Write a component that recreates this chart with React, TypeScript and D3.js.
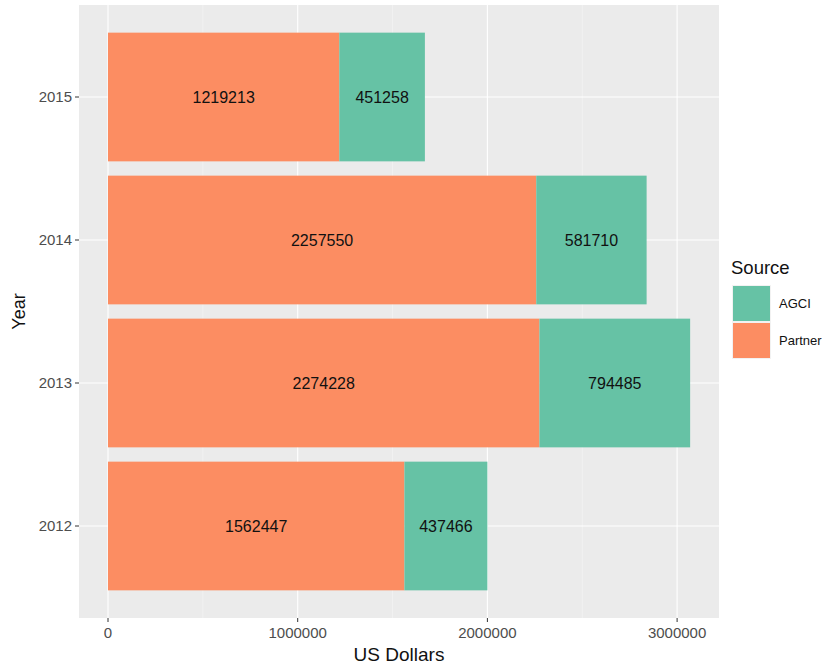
import React from "react";
import * as d3 from "d3";

const years = ["2012", "2013", "2014", "2015"];
const partner = [1562447, 2274228, 2257550, 1219213];
const agci = [437466, 794485, 581710, 451258];
const xTicks = [0, 1000000, 2000000, 3000000];
const xMinor = [500000, 1500000, 2500000];
const sources = ["AGCI", "Partner"];
const colors = { AGCI: "#66C2A5", Partner: "#FC8D62" };

export default function App() {
  const W = 827, H = 666;
  const panel = { left: 79, right: 719, top: 5, bottom: 618 };
  const x = d3.scaleLinear().domain([0, 1000000]).range([108, 297.7]);
  const y = d3.scaleLinear().domain([1, 4]).range([526, 97]);
  const unit = Math.abs(y(2) - y(1));
  const bh = unit * 0.9;
  const font = "Liberation Sans, Arial, Helvetica, sans-serif";
  return (
    <svg width={W} height={H} style={{ position: "absolute", left: 0, top: 0 }} fontFamily={font}>
      <rect x={0} y={0} width={W} height={H} fill="#fff" />
      <rect x={panel.left} y={panel.top} width={panel.right - panel.left} height={panel.bottom - panel.top} fill="#EBEBEB" />
      {xMinor.map((v) => (
        <line key={"m" + v} x1={x(v)} x2={x(v)} y1={panel.top} y2={panel.bottom} stroke="#F5F5F5" strokeWidth={0.6} />
      ))}
      {xTicks.map((v) => (
        <line key={"g" + v} x1={x(v)} x2={x(v)} y1={panel.top} y2={panel.bottom} stroke="#fff" strokeWidth={1.1} />
      ))}
      {years.map((yr, i) => (
        <line key={"yg" + yr} x1={panel.left} x2={panel.right} y1={y(i + 1)} y2={y(i + 1)} stroke="#fff" strokeWidth={1.1} />
      ))}
      {years.map((yr, i) => {
        const yc = y(i + 1);
        const p = partner[i], a = agci[i];
        return (
          <g key={yr}>
            <rect x={x(0)} y={yc - bh / 2} width={x(p) - x(0)} height={bh} fill={colors.Partner} />
            <rect x={x(p)} y={yc - bh / 2} width={x(p + a) - x(p)} height={bh} fill={colors.AGCI} />
            <text x={x(p / 2)} y={yc} dy="0.35em" textAnchor="middle" fontSize={16} fill="#111">{p}</text>
            <text x={x(p + a / 2)} y={yc} dy="0.35em" textAnchor="middle" fontSize={16} fill="#111">{a}</text>
          </g>
        );
      })}
      {xTicks.map((v) => (
        <g key={"t" + v}>
          <line x1={x(v)} x2={x(v)} y1={panel.bottom} y2={panel.bottom + 4} stroke="#333" strokeWidth={1} />
          <text x={x(v)} y={638} textAnchor="middle" fontSize={15} fill="#4D4D4D">{v}</text>
        </g>
      ))}
      {years.map((yr, i) => (
        <g key={"yt" + yr}>
          <line x1={panel.left - 4} x2={panel.left} y1={y(i + 1)} y2={y(i + 1)} stroke="#333" strokeWidth={1} />
          <text x={panel.left - 7} y={y(i + 1)} dy="0.36em" textAnchor="end" fontSize={15} fill="#4D4D4D">{yr}</text>
        </g>
      ))}
      <text x={(panel.left + panel.right) / 2} y={661} textAnchor="middle" fontSize={19} fill="#111">US Dollars</text>
      <text transform={`translate(25, ${(panel.top + panel.bottom) / 2}) rotate(-90)`} textAnchor="middle" fontSize={18} fill="#111">Year</text>
      <text x={731} y={274} fontSize={18.5} fill="#111">Source</text>
      {sources.map((s, i) => (
        <g key={s}>
          <rect x={732} y={285 + i * 37} width={39} height={37} fill="#F2F2F2" />
          <rect x={733} y={286 + i * 37} width={37} height={35} fill={colors[s as "AGCI" | "Partner"]} />
          <text x={779} y={285 + i * 37 + 18.5} dy="0.35em" fontSize={13} fill="#111">{s}</text>
        </g>
      ))}
    </svg>
  );
}
